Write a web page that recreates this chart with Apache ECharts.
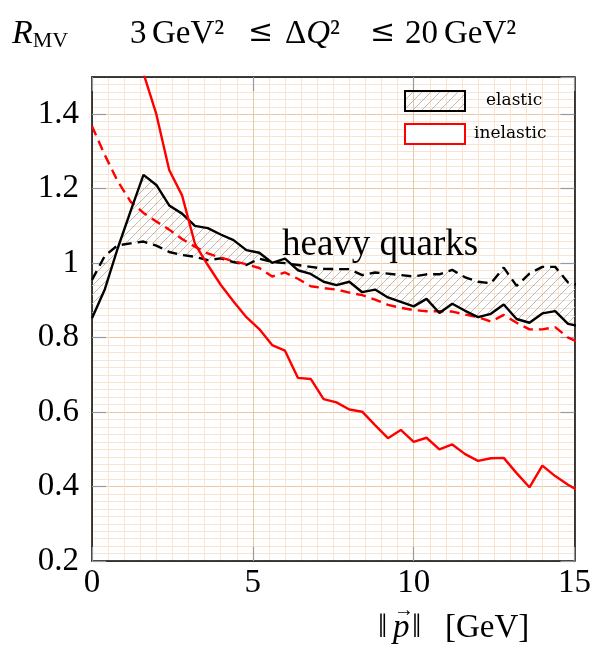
<!DOCTYPE html>
<html>
<head>
<meta charset="utf-8">
<script src="https://cdn.jsdelivr.net/npm/echarts@6/dist/echarts.min.js"></script>
<style>html,body{margin:0;padding:0;background:#fff}#c{width:594px;height:653px}</style>
</head>
<body>
<div id="c"></div>
<script>
// momentum grid [GeV]
const xs = [0,0.4,0.8,1.2,1.6,2.0,2.4,2.8,3.2,3.6,4.0,4.4,4.8,5.2,5.6,6.0,6.4,6.8,7.2,7.6,8.0,8.4,8.8,9.2,9.6,10.0,10.4,10.8,11.2,11.6,12.0,12.4,12.8,13.2,13.6,14.0,14.4,14.8,15.2];
// elastic, solid black
const elasticSolid = [0.852,0.93,1.04,1.14,1.237,1.21,1.155,1.133,1.1,1.094,1.077,1.062,1.035,1.028,1.001,1.012,0.981,0.971,0.95,0.941,0.95,0.922,0.929,0.908,0.896,0.884,0.904,0.866,0.891,0.872,0.855,0.864,0.889,0.85,0.84,0.865,0.871,0.837,0.83];
// elastic, dashed black
const elasticDashed = [0.955,1.02,1.048,1.053,1.058,1.047,1.03,1.022,1.017,1.008,1.013,1.003,0.995,1.012,1.003,1.0,0.995,0.99,0.985,0.984,0.984,0.968,0.975,0.972,0.968,0.964,0.97,0.97,0.982,0.962,0.95,0.946,0.988,0.939,0.972,0.99,0.99,0.948,0.94];
// inelastic, solid red
const inelasticSolid = [null,null,null,1.64,1.51,1.40,1.25,1.182,1.052,0.995,0.942,0.897,0.855,0.823,0.78,0.765,0.692,0.689,0.635,0.626,0.607,0.601,0.565,0.53,0.552,0.52,0.531,0.5,0.513,0.487,0.469,0.476,0.477,0.436,0.398,0.456,0.428,0.405,0.385];
// inelastic, dashed red
const inelasticDashed = [1.368,1.29,1.22,1.165,1.135,1.112,1.09,1.065,1.044,1.026,1.015,1.005,0.997,0.987,0.964,0.975,0.958,0.938,0.933,0.929,0.921,0.914,0.902,0.888,0.88,0.874,0.871,0.871,0.87,0.862,0.855,0.843,0.861,0.84,0.822,0.822,0.828,0.8,0.785];
const xTicks = [0,5,10,15];
const yTicks = [0.2,0.4,0.6,0.8,1,1.2,1.4];

const FONT = '"Liberation Serif", "DejaVu Serif", serif';
const LFONT = '"DejaVu Serif", serif';

function makeHatch(){
  const c = document.createElement('canvas');
  c.width = 9; c.height = 9;
  const g = c.getContext('2d');
  g.strokeStyle = '#b4b4b4';
  g.lineWidth = 0.9;
  g.beginPath();
  g.moveTo(0,9); g.lineTo(9,0);
  g.moveTo(-1,1); g.lineTo(1,-1);
  g.moveTo(8,10); g.lineTo(10,8);
  g.stroke();
  return c;
}
const hatchCanvas = makeHatch();
const hatchFill = {image: hatchCanvas, repeat: 'repeat'};

const pairs = arr => xs.map((x,i) => [x, arr[i]]);

const chart = echarts.init(document.getElementById('c'), null, {renderer:'canvas'});

const minorColor = '#f8e4d2';
const majorColor = '#ebc6a2';
const tickStyle = {show: true, inside: true, length: 14, lineStyle: {color: '#999', width: 1.2}};
const frameLine = {show: true, onZero: false, lineStyle: {color: '#000', width: 1.5}};
const T = (left, top, text, extra) => Object.assign({type: 'text', left, top, z: 10,
  style: Object.assign({text, fontFamily: FONT, fontSize: 33, fill: '#000'}, extra || {})});

const option = {
  animation: false,
  backgroundColor: '#fff',
  grid: {left: 92, right: 19, top: 77, bottom: 92},
  legend: {
    orient: 'vertical', left: 404, top: 90, padding: 0,
    itemWidth: 60, itemHeight: 20, itemGap: 11,
    selectedMode: false,
    textStyle: {fontFamily: LFONT, fontSize: 17, color: '#000'},
    data: [
      {name: 'elastic', icon: 'rect', itemStyle: {color: hatchFill, borderColor: '#000', borderWidth: 2}, textStyle: {padding: [0,0,0,16]}},
      {name: 'inelastic', icon: 'rect', itemStyle: {color: '#fff', borderColor: '#ff0000', borderWidth: 2}, textStyle: {padding: [0,0,0,4]}}
    ]
  },
  xAxis: [{
    type: 'value', min: 0, max: 15, interval: 5,
    axisLine: frameLine, axisTick: tickStyle,
    axisLabel: {color: '#000', fontFamily: FONT, fontSize: 33, margin: 6,
      formatter: v => xTicks.includes(v) ? String(v) : ''},
    splitLine: {show: true, lineStyle: {color: majorColor, width: 1}},
    minorSplitLine: {show: true, lineStyle: {color: minorColor, width: 1}},
    minorTick: {show: false, splitNumber: 10}
  },{
    type: 'value', min: 0, max: 15, interval: 5, position: 'top',
    axisLine: frameLine, axisTick: tickStyle,
    axisLabel: {show: false}, splitLine: {show: false}
  }],
  yAxis: [{
    type: 'value', min: 0.2, max: 1.5, interval: 0.2,
    axisLine: frameLine, axisTick: tickStyle,
    axisLabel: {color: '#000', fontFamily: FONT, fontSize: 33, margin: 13, showMaxLabel: false,
      formatter: v => { const r = Math.round(v*10)/10; return yTicks.some(t => Math.abs(t - r) < 1e-9) && Math.abs(v - r) < 1e-6 ? String(r) : ''; }},
    splitLine: {show: true, lineStyle: {color: majorColor, width: 1}},
    minorSplitLine: {show: true, lineStyle: {color: minorColor, width: 1}},
    minorTick: {show: false, splitNumber: 10}
  },{
    type: 'value', min: 0.2, max: 1.5, interval: 0.2, position: 'right',
    axisLine: frameLine, axisTick: tickStyle,
    axisLabel: {show: false}, splitLine: {show: false}
  }],
  graphic: [
    // y-axis title R_MV
    {type: 'text', left: 12, top: 17, z: 10,
      style: {text: '{r|R}{s|MV}', rich: {
        r: {fontFamily: FONT, fontSize: 34, fontStyle: 'italic', color: '#000'},
        s: {fontFamily: FONT, fontSize: 22, color: '#000', padding: [14,0,0,0]}
      }}},
    // title: 3 GeV² ≤ ΔQ² ≤ 20 GeV²
    T(130, 18, '3'),
    T(152, 18, 'GeV²'),
    T(248, 18, '≤', {fontFamily: LFONT, fontSize: 30}),
    T(285, 18, '{n|Δ}{q|Q}{n|²}', {rich: {n: {fontFamily: FONT, fontSize: 33, color: '#000'}, q: {fontFamily: FONT, fontSize: 33, fontStyle: 'italic', color: '#000'}}}),
    T(370, 18, '≤', {fontFamily: LFONT, fontSize: 30}),
    T(405, 18, '20'),
    T(444, 18, 'GeV²'),
    // x-axis title ‖p⃗‖ [GeV]
    T(378, 612, '‖'),
    T(393, 612, 'p', {fontStyle: 'italic'}),
    T(394, 601, '→', {fontSize: 20}),
    T(412, 612, '‖'),
    T(445, 612, '[GeV]'),
    // annotation
    T(282, 227, 'heavy quarks', {fontSize: 37})
  ],
  series: [
    {
      name: 'elastic', type: 'custom', clip: true, z: 2,
      data: [[0, 1]],
      renderItem: function(params, api){
        const pts = [];
        for (let i = 0; i < xs.length; i++) pts.push(api.coord([xs[i], elasticSolid[i]]));
        for (let i = xs.length - 1; i >= 0; i--) pts.push(api.coord([xs[i], elasticDashed[i]]));
        return {type: 'polygon', shape: {points: pts}, style: {fill: hatchFill, stroke: null}};
      }
    },
    {name: 'elasticDashed', type: 'line', data: pairs(elasticDashed), symbol: 'none', z: 4,
      lineStyle: {color: '#000', width: 2.4, type: [10, 6]}},
    {name: 'elasticSolid', type: 'line', data: pairs(elasticSolid), symbol: 'none', z: 5,
      lineStyle: {color: '#000', width: 2.4}},
    {name: 'inelasticDashed', type: 'line', data: pairs(inelasticDashed), symbol: 'none', z: 4,
      lineStyle: {color: '#ff0000', width: 2.4, type: [10, 6]}},
    {name: 'inelastic', type: 'line', data: pairs(inelasticSolid), symbol: 'none', z: 5,
      lineStyle: {color: '#ff0000', width: 2.4}}
  ]
};
chart.setOption(option);
</script>
</body>
</html>
